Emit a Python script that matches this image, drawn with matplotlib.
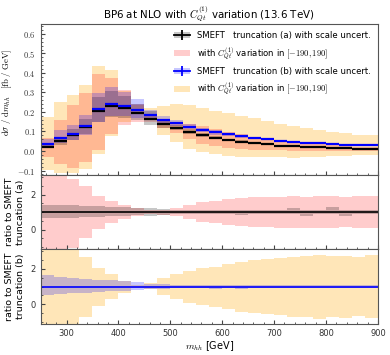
import numpy as np
import matplotlib
matplotlib.use('Agg')
import matplotlib.pyplot as plt
from matplotlib.patches import Patch
from matplotlib.lines import Line2D
from matplotlib.ticker import MultipleLocator

plt.rcParams['mathtext.fontset'] = 'cm'

# bin edges in m_hh [GeV]
edges = np.arange(250, 925, 25)

# central values, SMEFT truncation (a) and (b) [fb / GeV]
central_a = [0.021, 0.050, 0.082, 0.121, 0.205, 0.232, 0.219, 0.193, 0.164, 0.140,
             0.120, 0.099, 0.082, 0.068, 0.057, 0.048, 0.040, 0.034, 0.028, 0.024,
             0.021, 0.019, 0.016, 0.014, 0.012, 0.011]
central_b = [0.038, 0.068, 0.089, 0.128, 0.214, 0.243, 0.229, 0.210, 0.184, 0.158,
             0.142, 0.125, 0.108, 0.096, 0.085, 0.075, 0.067, 0.059, 0.053, 0.048,
             0.043, 0.039, 0.036, 0.033, 0.031, 0.029]

# scale uncertainty, truncation (a), as ratio to central
scale_a_hi = [1.43, 1.41, 1.39, 1.37, 1.35, 1.32, 1.29, 1.25, 1.25, 1.16, 1.13, 1.12, 1.11,
              1.12, 1.11, 1.14, 1.12, 1.11, 1.10, 1.22, 1.10, 1.11, 1.27, 1.10, 1.10, 1.10]
scale_a_lo = [0.65, 0.66, 0.68, 0.70, 0.72, 0.75, 0.78, 0.82, 0.80, 0.86, 0.88, 0.89, 0.89,
              0.88, 0.89, 0.86, 0.88, 0.89, 0.90, 0.90, 0.80, 0.89, 0.90, 0.78, 0.90, 0.90]

# C_Qt^(1) variation, truncation (a), as ratio to central
coef_a_hi = [3.20, 3.18, 2.90, 2.47, 1.92, 1.62, 1.43, 1.24, 1.10, 1.14, 1.24, 1.42, 1.56,
             1.66, 1.74, 1.80, 1.84, 1.86, 1.89, 1.90, 1.88, 1.90, 1.90, 1.86, 1.90, 1.90]
coef_a_lo = [-1.40, -1.33, -1.05, -0.47, 0.02, 0.37, 0.61, 0.76, 0.90, 0.86, 0.75, 0.60, 0.45,
             0.36, 0.28, 0.21, 0.17, 0.14, 0.11, 0.10, 0.12, 0.10, 0.10, 0.14, 0.10, 0.10]

# scale uncertainty, truncation (b), as ratio to central
scale_b_hi = [1.66, 1.55, 1.49, 1.44, 1.40, 1.36, 1.31, 1.27, 1.15, 1.13, 1.12, 1.11, 1.10,
              1.12, 1.08, 1.09, 1.07, 1.07, 1.07, 1.07, 1.07, 1.09, 1.09, 1.08, 1.07, 1.07]
scale_b_lo = [0.53, 0.59, 0.63, 0.66, 0.70, 0.74, 0.78, 0.80, 0.87, 0.89, 0.90, 0.91, 0.91,
              0.87, 0.92, 0.88, 0.93, 0.93, 0.93, 0.93, 0.93, 0.93, 0.93, 0.91, 0.93, 0.93]

# C_Qt^(1) variation, truncation (b), as ratio to central
coef_b_hi = [4.55, 3.72, 3.22, 2.66, 2.04, 1.70, 1.34, 1.12, 1.19, 1.47, 1.70, 1.89, 2.04,
             2.13, 2.27, 2.42, 2.51, 2.59, 2.64, 2.70, 2.72, 2.80, 2.74, 2.76, 2.68, 2.78]
coef_b_lo = [-2.55, -1.69, -1.29, -0.72, -0.07, 0.32, 0.66, 0.90, 0.85, 0.53, 0.32, 0.09, -0.05,
             -0.15, -0.28, -0.42, -0.47, -0.53, -0.62, -0.70, -0.73, -0.81, -0.73, -0.75, -0.66, -0.75]

top_yticks = [-0.1, 0.0, 0.1, 0.2, 0.3, 0.4, 0.5, 0.6]
ratio_yticks = [0, 2]
x_ticks = [300, 400, 500, 600, 700, 800, 900]

c_a = np.array(central_a)
c_b = np.array(central_b)

col_orange = (1.0, 0.65, 0.0, 0.28)
col_red = (1.0, 0.0, 0.0, 0.2)
col_gray = (0.0, 0.0, 0.0, 0.22)
col_blue = (0.0, 0.0, 1.0, 0.22)

fig = plt.figure(figsize=(3.9, 3.55), dpi=100)
L, W = 0.104, 0.865
ax1 = fig.add_axes([L, 0.507, W, 0.425])
ax2 = fig.add_axes([L, 0.298, W, 0.209], sharex=ax1)
ax3 = fig.add_axes([L, 0.087, W, 0.211], sharex=ax1)


def band(ax, lo, hi, color):
    ax.stairs(hi, edges, baseline=lo, fill=True, color=color, lw=0)


# top panel
band(ax1, c_b * np.array(coef_b_lo), c_b * np.array(coef_b_hi), col_orange)
band(ax1, c_a * np.array(coef_a_lo), c_a * np.array(coef_a_hi), col_red)
band(ax1, c_a * np.array(scale_a_lo), c_a * np.array(scale_a_hi), col_gray)
band(ax1, c_b * np.array(scale_b_lo), c_b * np.array(scale_b_hi), col_blue)
ax1.hlines(c_a, edges[:-1], edges[1:], color='black', lw=1.6)
ax1.hlines(c_b, edges[:-1], edges[1:], color='blue', lw=1.6)

ax1.set_xlim(250, 900)
ax1.set_ylim(-0.123, 0.65)
ax1.set_yticks(top_yticks, labels=[f'${v:.1f}$' for v in top_yticks])
ax1.yaxis.set_minor_locator(MultipleLocator(0.02))
ax1.set_ylabel(r'$\mathrm{d}\sigma\ /\ \mathrm{d}m_{hh}\ \ \ [\mathrm{fb}\ /\ \mathrm{GeV}]$', fontsize=6.3)
ax1.yaxis.set_label_coords(-0.08, 0.55)
ax1.set_title(r'BP6 at NLO with $C_{Qt}^{(1)}$ variation (13.6 TeV)', fontsize=7.4, pad=4)
ax1.tick_params(labelbottom=False)

h_a = (Patch(color=col_gray, lw=0), Line2D([], [], color='black', marker='|', markersize=7, mew=1.3, lw=1.3))
h_b = (Patch(color=col_blue, lw=0), Line2D([], [], color='blue', marker='|', markersize=7, mew=1.3, lw=1.3))
h_ra = Patch(color=col_red, lw=0)
h_ob = Patch(color=col_orange, lw=0)
ax1.legend([h_a, h_ra, h_b, h_ob],
           ['SMEFT   truncation (a) with scale uncert.',
            r'with $C_{Qt}^{(1)}$ variation in $[-190, 190]$',
            'SMEFT   truncation (b) with scale uncert.',
            r'with $C_{Qt}^{(1)}$ variation in $[-190, 190]$'],
           loc='upper right', frameon=False, fontsize=6.1, handlelength=2.0,
           labelspacing=0.62, borderaxespad=0.4, handletextpad=0.8)

# middle panel: ratio to truncation (a)
band(ax2, coef_a_lo, coef_a_hi, col_red)
band(ax2, scale_a_lo, scale_a_hi, col_gray)
ax2.hlines(c_a / c_a, edges[:-1], edges[1:], color='black', lw=1.2)
ax2.set_ylim(-1.12, 3.12)
ax2.set_yticks(ratio_yticks)
ax2.yaxis.set_minor_locator(MultipleLocator(0.5))
ax2.set_ylabel('ratio to SMEFT\ntruncation (a)', fontsize=6.8, linespacing=1.3)
ax2.yaxis.set_label_coords(-0.045, 0.5)
ax2.tick_params(labelbottom=False)

# bottom panel: ratio to truncation (b)
band(ax3, coef_b_lo, coef_b_hi, col_orange)
band(ax3, scale_b_lo, scale_b_hi, col_blue)
ax3.hlines(c_b / c_b, edges[:-1], edges[1:], color='blue', lw=1.2)
ax3.set_ylim(-1.12, 3.12)
ax3.set_yticks(ratio_yticks)
ax3.yaxis.set_minor_locator(MultipleLocator(0.5))
ax3.set_ylabel('ratio to SMEFT\ntruncation (b)', fontsize=6.8, linespacing=1.3)
ax3.yaxis.set_label_coords(-0.045, 0.5)
ax3.set_xticks(x_ticks)
ax3.xaxis.set_minor_locator(MultipleLocator(20))
ax3.set_xlabel(r'$m_{hh}$ [GeV]', fontsize=7, labelpad=1)

for ax in (ax1, ax2, ax3):
    ax.tick_params(which='both', direction='in', labelsize=6, colors='#444444', labelcolor='#333333')
    ax.tick_params(which='major', length=3)
    ax.tick_params(which='minor', length=1.5)
    for s in ax.spines.values():
        s.set_color('#555555')
        s.set_linewidth(0.8)

fig.savefig('out.png', dpi=100)
